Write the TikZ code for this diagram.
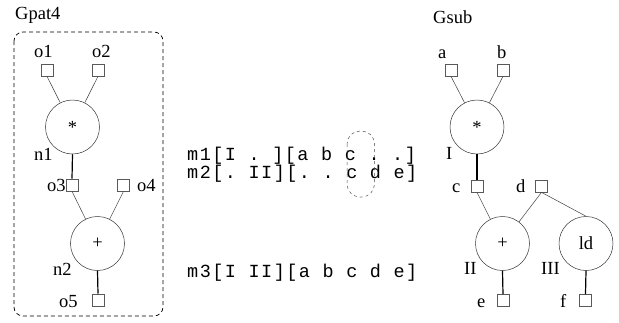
\documentclass[tikz,border=0pt]{standalone}
\usepackage{fontspec}
\setmainfont{Liberation Serif}
\setmonofont[LetterSpace=8]{Liberation Mono}
\begin{document}
\begin{tikzpicture}[x=1pt,y=-1pt,
  port/.style={draw=black!65, line width=0.7pt, rectangle, minimum size=12pt, inner sep=0pt},
  op/.style={draw=black!80, line width=0.5pt, circle, minimum size=54pt, inner sep=0pt, font=\fontsize{18.5}{20}\selectfont},
  lbl/.style={anchor=base west, inner sep=0pt, font=\fontsize{18.5}{20}\selectfont},
  mono/.style={anchor=base west, inner sep=0pt, font=\ttfamily\fontsize{18.5}{20}\selectfont},
  inedge/.style={draw=black!75, line width=0.5pt},
  outedge/.style={draw=black, line width=1.2pt},
  frame/.style={draw=black, line width=0.7pt, dash pattern=on 4pt off 3pt, rounded corners=9pt},
  sel/.style={draw=black!70, line width=0.5pt, dash pattern=on 3pt off 3pt, rounded corners=13pt}
]
\useasboundingbox (0,0) rectangle (619,322);

% ---------- Gpat4 ----------
\node[lbl] (tpat) at (15,19) {Gpat4};
\draw[frame] (14,32) rectangle (163,316);

\node[port] (o1) at (47,70) {};
\node[port] (o2) at (98,70) {};
\node[op] (n1) at (72.5,127) {*};
\node[port] (o3) at (72,185) {};
\node[port] (o4) at (123.5,185) {};
\node[op] (n2) at (97.5,243.5) {+};
\node[port] (o5) at (98,300) {};

\node[lbl] (lo1) at (34,57) {o1};
\node[lbl] (lo2) at (92,57) {o2};
\node[lbl] (ln1) at (34,160) {n1};
\node[lbl] (lo3) at (47,191) {o3};
\node[lbl] (lo4) at (137,191) {o4};
\node[lbl] (ln2) at (53,275) {n2};
\node[lbl] (lo5) at (59,307) {o5};

\draw[inedge] (o1.south) -- (n1);
\draw[inedge] (o2.south) -- (n1);
\draw[outedge] (n1.south) -- (o3.north);
\draw[inedge] (o3.south) -- (n2);
\draw[inedge] (o4.south) -- (n2);
\draw[outedge] (n2.south) -- (o5.north);

% ---------- middle text ----------
\node[mono] (m1) at (187,160) {m1[I . ][a b c . .]};
\node[mono] (m2) at (187,178) {m2[. II][. . c d e]};
\node[mono] (m3) at (187,277) {m3[I II][a b c d e]};
\draw[sel] (347,131) rectangle (374.5,197);

% ---------- Gsub ----------
\node[lbl] (tsub) at (433,23) {Gsub};

\node[port] (a) at (451,70) {};
\node[port] (b) at (503,70) {};
\node[op] (I) at (477,127) {*};
\node[port] (c) at (477,186) {};
\node[port] (d) at (541.5,186) {};
\node[op] (II) at (502.5,243.5) {+};
\node[op] (III) at (586,243.5) {ld};
\node[port] (e) at (503,300.5) {};
\node[port] (f) at (585.5,300.5) {};

\node[lbl] (la) at (438,58) {a};
\node[lbl] (lb) at (497,58) {b};
\node[lbl] (lI) at (446,159) {I};
\node[lbl] (lc) at (452,192) {c};
\node[lbl] (ld) at (516,192) {d};
\node[lbl] (lII) at (464,274) {II};
\node[lbl] (lIII) at (541,274) {III};
\node[lbl] (le) at (477,307) {e};
\node[lbl] (lf) at (560,307) {f};

\draw[inedge] (a.south) -- (I);
\draw[inedge] (b.south) -- (I);
\draw[outedge] (I.south) -- (c.north);
\draw[inedge] (c.south) -- (II);
\draw[inedge] (d.south) -- (II);
\draw[inedge] (d.south) -- (III.north);
\draw[outedge] (II.south) -- (e.north);
\draw[outedge] (III.south) -- (f.north);
\end{tikzpicture}
\end{document}
